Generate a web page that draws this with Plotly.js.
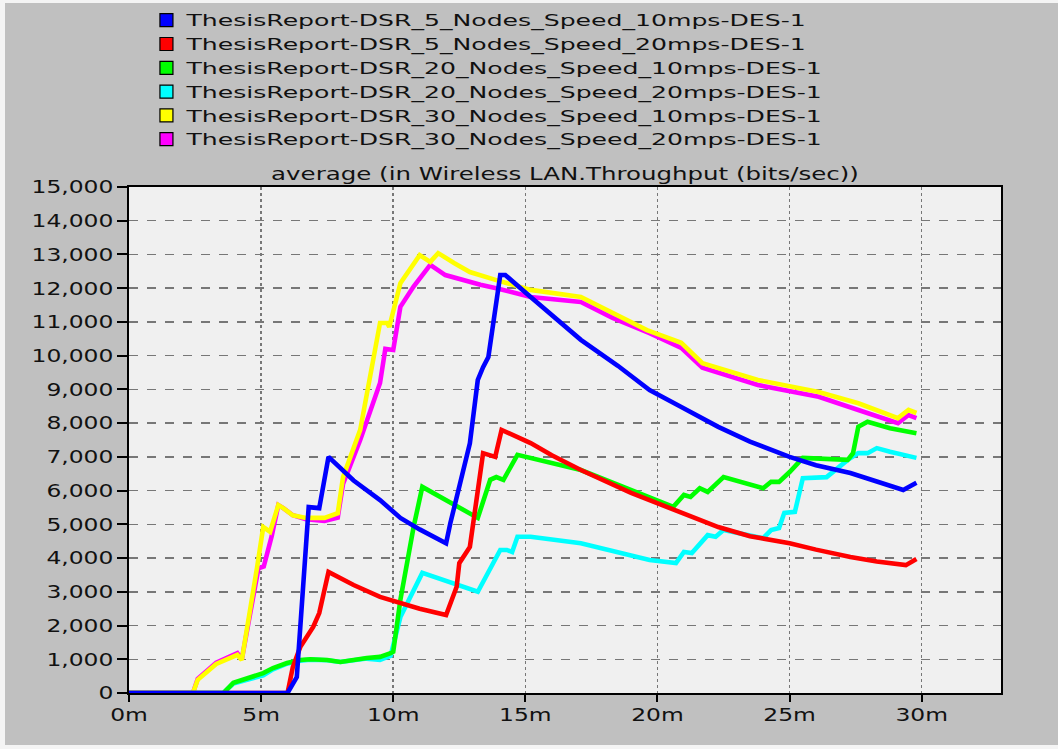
<!DOCTYPE html>
<html>
<head>
<meta charset="utf-8">
<script src="https://cdn.plot.ly/plotly-3.0.1.min.js"></script>
<style>html,body{margin:0;padding:0;background:#c0c0c0;}#chart{width:1058px;height:749px;}</style>
</head>
<body>
<div id="chart"></div>
<script>
// Series names
const seriesNames = [
  "ThesisReport-DSR_5_Nodes_Speed_10mps-DES-1",
  "ThesisReport-DSR_5_Nodes_Speed_20mps-DES-1",
  "ThesisReport-DSR_20_Nodes_Speed_10mps-DES-1",
  "ThesisReport-DSR_20_Nodes_Speed_20mps-DES-1",
  "ThesisReport-DSR_30_Nodes_Speed_10mps-DES-1",
  "ThesisReport-DSR_30_Nodes_Speed_20mps-DES-1"
];
const seriesColors = ["#0000ff", "#ff0000", "#00ff00", "#00ffff", "#ffff00", "#ff00ff"];

// Time in minutes, throughput in bits/sec
const blueX = [0, 6.0, 6.35, 6.8, 7.2, 7.55, 8.5, 9.5, 10.27, 11.0, 12.0, 12.16, 12.9, 13.2, 13.4, 13.6, 14.05, 14.24, 15.2, 16.0, 17.1, 18.5, 19.7, 20.9, 22.3, 23.5, 25.0, 26.0, 27.3, 28.3, 29.3, 29.8];
const blueY = [0, 0, 470, 5510, 5480, 7000, 6300, 5720, 5190, 4850, 4440, 5030, 7400, 9280, 9660, 9960, 12390, 12390, 11740, 11200, 10470, 9700, 8980, 8480, 7890, 7450, 7000, 6750, 6520, 6270, 6020, 6230];

const redX = [0, 6.0, 6.2, 6.48, 6.97, 7.2, 7.55, 8.5, 9.5, 10.27, 11.0, 12.0, 12.4, 12.5, 12.9, 13.4, 13.67, 13.86, 14.1, 15.2, 16.0, 17.1, 19.0, 20.9, 22.3, 23.5, 25.0, 26.0, 27.3, 28.3, 29.4, 29.8];
const redY = [0, 0, 770, 1360, 1960, 2370, 3590, 3200, 2850, 2670, 2500, 2310, 3150, 3850, 4330, 7110, 7060, 7000, 7800, 7410, 7050, 6610, 5930, 5340, 4920, 4650, 4440, 4250, 4030, 3900, 3790, 3970];

const greenX = [0, 3.57, 3.95, 4.7, 5.08, 5.45, 5.98, 6.48, 6.86, 7.5, 8.0, 9.0, 9.5, 9.9, 10.0, 10.27, 10.77, 11.1, 13.2, 13.67, 13.9, 14.17, 14.7, 17.1, 19.0, 20.6, 21.0, 21.25, 21.6, 21.9, 22.5, 24.0, 24.3, 24.6, 25.0, 25.5, 27.2, 27.4, 27.6, 27.95, 28.8, 29.8];
const greenY = [0, 0, 300, 470, 590, 740, 890, 980, 1000, 980, 920, 1040, 1070, 1180, 1220, 2760, 4920, 6110, 5190, 6320, 6400, 6320, 7060, 6610, 6020, 5520, 5870, 5810, 6070, 5960, 6400, 6070, 6260, 6260, 6550, 6970, 6910, 7110, 7890, 8040, 7850, 7700];

const cyanX = [0, 3.57, 3.95, 4.7, 5.08, 5.45, 5.98, 6.48, 6.86, 7.5, 8.0, 9.0, 9.5, 9.9, 10.27, 11.1, 13.2, 14.05, 14.3, 14.5, 14.7, 15.2, 17.1, 19.7, 20.7, 21.0, 21.3, 21.9, 22.2, 22.5, 24.0, 24.3, 24.6, 24.8, 25.2, 25.5, 26.4, 27.2, 27.6, 27.95, 28.3, 28.8, 29.8];
const cyanY = [0, 0, 280, 430, 520, 700, 870, 960, 990, 970, 920, 1020, 980, 1100, 2250, 3560, 3000, 4240, 4240, 4180, 4630, 4630, 4440, 3940, 3850, 4180, 4150, 4680, 4630, 4830, 4590, 4830, 4890, 5340, 5370, 6370, 6400, 6910, 7110, 7110, 7260, 7150, 6970];

const yellowX = [0, 2.42, 2.6, 3.3, 4.1, 4.27, 4.85, 5.08, 5.34, 5.65, 5.84, 6.2, 6.7, 7.4, 7.9, 8.1, 8.75, 9.5, 9.77, 9.85, 10.27, 10.6, 11.0, 11.4, 11.7, 12.3, 12.9, 13.9, 15.2, 17.1, 18.3, 19.6, 20.9, 21.7, 23.8, 26.1, 27.6, 29.1, 29.5, 29.8];
const yellowY = [0, 0, 390, 860, 1130, 980, 3740, 4920, 4780, 5570, 5480, 5270, 5190, 5190, 5330, 6400, 7800, 10970, 10970, 10850, 12150, 12540, 12980, 12780, 13040, 12750, 12480, 12240, 11950, 11740, 11270, 10760, 10380, 9780, 9280, 8920, 8590, 8150, 8390, 8300];

const magentaX = [0, 2.42, 2.6, 3.3, 4.1, 4.27, 4.9, 5.1, 5.4, 5.65, 5.84, 6.2, 6.7, 7.4, 7.9, 8.1, 8.75, 9.25, 9.5, 9.7, 10.0, 10.27, 10.77, 11.4, 11.97, 13.3, 13.9, 15.2, 17.1, 18.3, 19.7, 20.9, 21.7, 23.8, 26.1, 27.6, 29.1, 29.5, 29.8];
const magentaY = [0, 0, 420, 900, 1180, 1000, 3700, 3750, 4650, 5570, 5480, 5270, 5150, 5100, 5200, 6200, 7500, 8600, 9190, 10200, 10170, 11450, 12050, 12690, 12390, 12100, 12000, 11740, 11590, 11120, 10670, 10230, 9640, 9130, 8780, 8390, 8000, 8240, 8150];

// Axis ticks
const xTickVals = [0, 5, 10, 15, 20, 25, 30];
const xTickText = ["0m", "5m", "10m", "15m", "20m", "25m", "30m"];
const chartTitle = "average (in Wireless LAN.Throughput (bits/sec))";

const seriesX = [blueX, redX, greenX, cyanX, yellowX, magentaX];
const seriesY = [blueY, redY, greenY, cyanY, yellowY, magentaY];

const traces = [];
// legend entries (square swatches)
for (let i = 0; i < seriesNames.length; i++) {
  traces.push({
    x: [null], y: [null], type: 'scatter', mode: 'markers', name: seriesNames[i],
    marker: {symbol: 'square', size: 13, color: seriesColors[i], line: {color: '#000', width: 1.2}},
    showlegend: true, hoverinfo: 'skip'
  });
}
// lines, drawn bottom to top
const drawOrder = [5, 4, 3, 2, 1, 0];
for (const i of drawOrder) {
  traces.push({
    x: seriesX[i], y: seriesY[i], type: 'scatter', mode: 'lines', name: seriesNames[i],
    line: {color: seriesColors[i], width: 4.6}, showlegend: false
  });
}

// pixel -> paper helpers for the light frame at the window edges
const PL = 129, PW = 872, PB = 693, PH = 506;
const px = v => (v - PL) / PW;
const py = v => (PB - v) / PH;

const tickFont = {family: 'DejaVu Sans', size: 18, color: '#111'};
const layout = {
  width: 1058, height: 749,
  paper_bgcolor: '#c0c0c0', plot_bgcolor: '#f0f0f0',
  margin: {l: 129, r: 57, t: 187, b: 56, pad: 0, autoexpand: false},
  showlegend: true,
  title: {text: chartTitle, x: 0.534, xanchor: 'center', y: 1 - 174/749, yanchor: 'middle',
          font: {family: 'DejaVu Sans', size: 17, color: '#111'}},
  legend: {x: 0.02, xanchor: 'left', y: 1.363, yanchor: 'top', bgcolor: 'rgba(0,0,0,0)',
           font: {family: 'DejaVu Sans', size: 16, color: '#111'}, tracegroupgap: 0, traceorder: 'normal'},
  xaxis: {range: [0, 33], tickvals: xTickVals, ticktext: xTickText, showline: true, mirror: true,
          linecolor: '#000', linewidth: 2, ticks: 'outside', ticklen: 7, tickwidth: 2, tickcolor: '#000',
          ticklabelstandoff: -3, automargin: false,
          showgrid: true, gridcolor: '#777', gridwidth: 1.5, griddash: 'dot', zeroline: false,
          tickfont: tickFont, fixedrange: true},
  yaxis: {range: [0, 15000], dtick: 1000, tickformat: ',d', showline: true, mirror: true,
          linecolor: '#000', linewidth: 2, ticks: 'outside', ticklen: 10, tickwidth: 2, tickcolor: '#000',
          automargin: false,
          showgrid: true, gridcolor: '#777', gridwidth: 1.5, griddash: 'dash', zeroline: false,
          tickfont: tickFont, fixedrange: true},
  shapes: [
    {type: 'rect', xref: 'paper', yref: 'paper', x0: px(0), x1: px(5), y0: py(749), y1: py(0), fillcolor: '#f4f4f4', line: {width: 0}, layer: 'below'},
    {type: 'rect', xref: 'paper', yref: 'paper', x0: px(0), x1: px(1058), y0: py(3), y1: py(0), fillcolor: '#f4f4f4', line: {width: 0}, layer: 'below'},
    {type: 'rect', xref: 'paper', yref: 'paper', x0: px(0), x1: px(1058), y0: py(749), y1: py(745), fillcolor: '#f4f4f4', line: {width: 0}, layer: 'below'}
  ]
};

// the reference's bitmap font is horizontally wide; widen the real SVG text to match
function widen(selector, factor) {
  document.querySelectorAll(selector).forEach(t => {
    const w = t.getComputedTextLength();
    if (w > 0) {
      t.setAttribute('textLength', (w * factor).toFixed(1));
      t.setAttribute('lengthAdjust', 'spacingAndGlyphs');
    }
  });
}

Plotly.newPlot('chart', traces, layout, {displayModeBar: false, staticPlot: true}).then(() => {
  widen('#chart text.legendtext', 1.57);
  widen('#chart text.gtitle', 1.44);
  widen('#chart .xtick text', 1.3);
  widen('#chart .ytick text', 1.3);
  // let the widened legend text show in full
  document.querySelectorAll('#chart .legend [clip-path]').forEach(e => e.removeAttribute('clip-path'));
});
</script>
</body>
</html>
